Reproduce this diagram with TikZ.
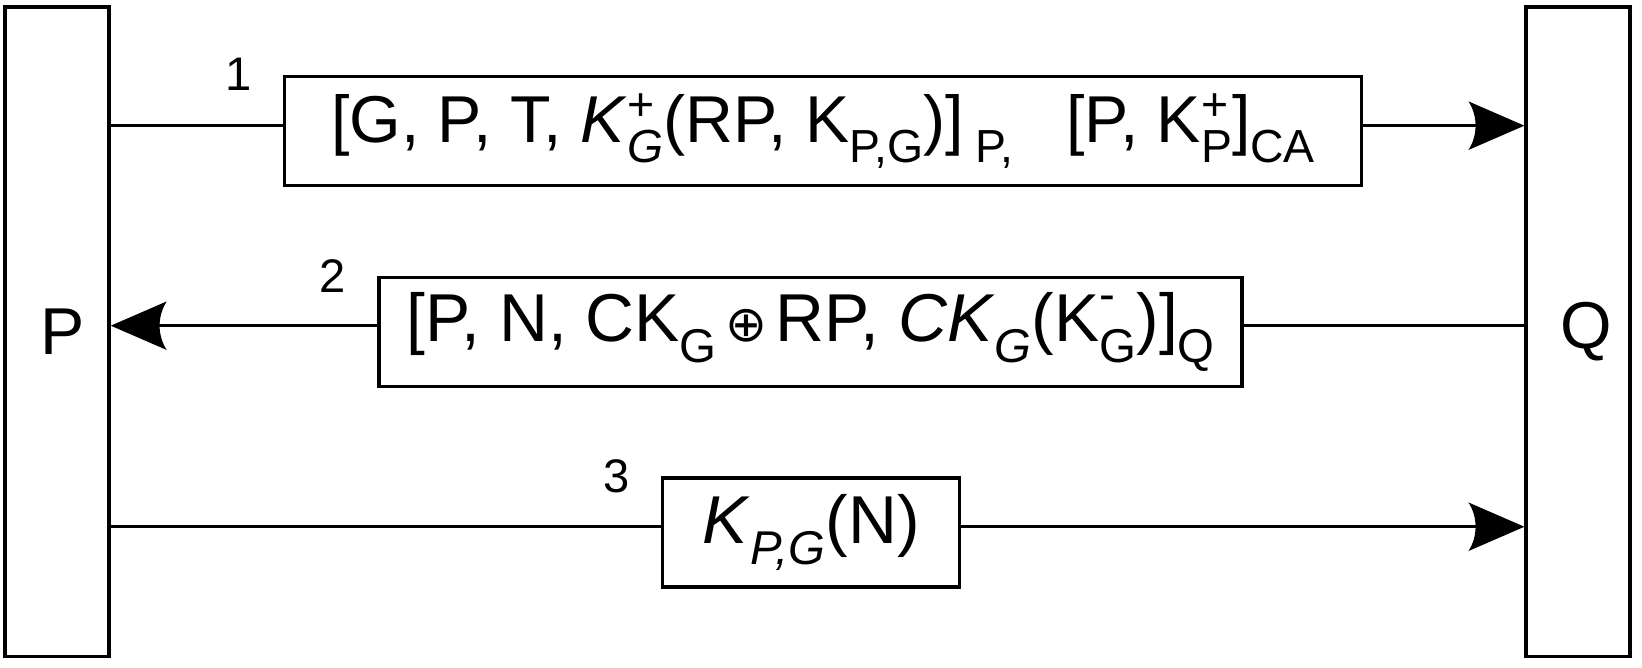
\documentclass[tikz,border=0pt]{standalone}
\usepackage{fontspec}
\setmainfont{Liberation Sans}
\newfontfamily\symf{DejaVu Sans}
\usetikzlibrary{arrows.meta,positioning}

\makeatletter
\newcommand{\lo}[1]{{\@tempdima=0.7\dimexpr\f@size pt\relax
  \raisebox{-0.3em}{\fontsize{\strip@pt\@tempdima}{\z@}\selectfont #1}}}
\newcommand{\hi}[1]{{\@tempdima=0.7\dimexpr\f@size pt\relax
  \raisebox{0.33em}{\fontsize{\strip@pt\@tempdima}{\z@}\selectfont #1}}}
\makeatother
\newcommand{\supsub}[2]{\rlap{\hi{#1}}\lo{#2}}

% stealth tip with a hollow, curved back
\pgfdeclarearrow{
  name = Barb,
  parameters = {\the\pgfarrowlength,\the\pgfarrowwidth},
  setup code = {
    \pgfarrowssettipend{0pt}
    \pgfarrowssetbackend{-\pgfarrowlength}
    \pgfarrowssetlineend{-0.8\pgfarrowlength}
    \pgfarrowssetvisualbackend{-0.85\pgfarrowlength}
  },
  drawing code = {
    \pgfpathmoveto{\pgfqpoint{0pt}{0pt}}
    \pgfpathlineto{\pgfpoint{-\pgfarrowlength}{0.5\pgfarrowwidth}}
    \pgfpathcurveto{\pgfpoint{-0.83\pgfarrowlength}{0.2\pgfarrowwidth}}
      {\pgfpoint{-0.83\pgfarrowlength}{-0.2\pgfarrowwidth}}
      {\pgfpoint{-\pgfarrowlength}{-0.5\pgfarrowwidth}}
    \pgfpathclose
    \pgfusepathqfill
  },
  defaults = {length=19pt, width=16.5pt}
}

\begin{document}
\begin{tikzpicture}[x=0.0125cm,y=-0.0125cm,
    bar/.style={draw,line width=1.2pt,minimum width=1.24cm,minimum height=7.75cm,inner sep=0pt},
    msgbox/.style={draw,line width=1.2pt,fill=white,minimum height=1.3cm,inner sep=0pt,font=\fontsize{22.5}{27}\selectfont},
    num/.style={inner sep=0pt,font=\fontsize{16}{19}\selectfont},
    lbl/.style={font=\fontsize{22.5}{27}\selectfont},
    line/.style={line width=1.1pt},
    msg/.style={line,-{Barb}}]
  \useasboundingbox (0,0) rectangle (1568,637);

  % the two parties
  \node[bar,label={[lbl,xshift=0.06cm]center:P}] (P) at (54.5,317) {};
  \node[bar,label={[lbl,xshift=0.1cm]center:Q}] (Q) at (1507,317) {};

  % messages
  \node[msgbox,minimum width=12.85cm] (m1) at (786,125)
    {[G, P, T, \textit{K}\supsub{+}{\textit{G}}(RP, K\lo{P,G})]\,\lo{P,}\hspace{0.8em}[P, K\supsub{+}{P}]\lo{CA}};
  \node[msgbox,minimum width=10.3cm,font=\fontsize{23}{27}\selectfont] (m2) at (774,317)
    {[P, N, CK\lo{G}{\symf\fontsize{17}{17}\selectfont\,⊕\,}RP, \textit{CK}\lo{\textit{G}}(K\supsub{\raisebox{0.2em}{-}}{G})]\lo{Q}};
  \node[msgbox,minimum width=3.54cm,font=\fontsize{23}{27}\selectfont] (m3) at (774.5,508.5)
    {\textit{K}\lo{\textit{P,G}}(N)};

  \node[num,left=10.5pt of m1.north west] (n1) {1};
  \node[num,left=10.5pt of m2.north west] (n2) {2};
  \node[num,left=10.5pt of m3.north west] (n3) {3};

  \coordinate (c1) at (0,120);
  \coordinate (c2) at (0,311);
  \coordinate (c3) at (0,503);

  \draw[line] (P.east |- c1) -- (m1.west |- c1);
  \draw[msg] (m1.east |- c1) -- (Q.west |- c1);
  \draw[line] (Q.west |- c2) -- (m2.east |- c2);
  \draw[msg] (m2.west |- c2) -- (P.east |- c2);
  \draw[line] (P.east |- c3) -- (m3.west |- c3);
  \draw[msg] (m3.east |- c3) -- (Q.west |- c3);
\end{tikzpicture}
\end{document}
